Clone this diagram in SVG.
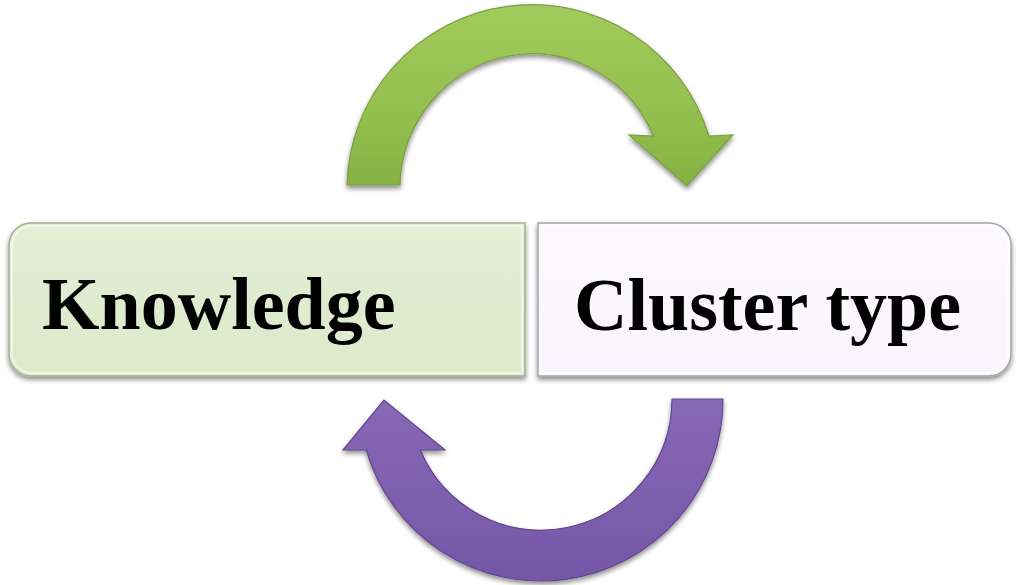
<svg xmlns="http://www.w3.org/2000/svg" width="1019" height="585" viewBox="0 0 1019 585">
  <style>
    .label { font-family: "Liberation Serif", "Times New Roman", serif; font-weight: bold; font-size: 74px; fill: #000000; }
    .box-green { fill: url(#gBoxGreen); stroke: #A3B38E; stroke-width: 1.5; }
    .box-violet { fill: url(#gBoxViolet); stroke: #A6A2AA; stroke-width: 1.5; }
    .bevel { fill: none; stroke: #FFFFFF; stroke-opacity: 0.55; stroke-width: 2; }
    .arrow-green { fill: url(#gArrowGreen); stroke: #7D9E45; stroke-width: 1.2; }
    .arrow-violet { fill: url(#gArrowViolet); stroke: #60468E; stroke-width: 1.2; }
  </style>
  <defs>
    <filter id="shadow" x="-10%" y="-10%" width="120%" height="130%">
      <feGaussianBlur in="SourceAlpha" stdDeviation="2.5"/>
      <feOffset dx="0" dy="3" result="b"/>
      <feComponentTransfer><feFuncA type="linear" slope="0.45"/></feComponentTransfer>
      <feMerge><feMergeNode/><feMergeNode in="SourceGraphic"/></feMerge>
    </filter>
    <linearGradient id="gBoxGreen" x1="0" y1="0" x2="0" y2="1">
      <stop offset="0" stop-color="#E3EED5"/>
      <stop offset="1" stop-color="#DCE9CB"/>
    </linearGradient>
    <linearGradient id="gBoxViolet" x1="0" y1="0" x2="0" y2="1">
      <stop offset="0" stop-color="#FDFAFE"/>
      <stop offset="1" stop-color="#F8F4FB"/>
    </linearGradient>
    <linearGradient id="gArrowGreen" x1="0" y1="0" x2="0" y2="1">
      <stop offset="0" stop-color="#A2CB5C"/>
      <stop offset="0.6" stop-color="#93BF4E"/>
      <stop offset="1" stop-color="#86B143"/>
    </linearGradient>
    <linearGradient id="gArrowViolet" x1="0" y1="0" x2="0" y2="1">
      <stop offset="0" stop-color="#8868B6"/>
      <stop offset="0.6" stop-color="#7D5DAD"/>
      <stop offset="1" stop-color="#7556A6"/>
    </linearGradient>
  </defs>

  <g id="node-knowledge" filter="url(#shadow)">
    <path class="box-green" d="M31,223 H525 V376 H31 A22 22 0 0 1 9,354 V245 A22 22 0 0 1 31,223 Z"/>
    <path class="bevel" d="M32,226 H522 V373 H32 A20 20 0 0 1 12,353 V246 A20 20 0 0 1 32,226 Z"/>
    <text class="label" x="42" y="329">Knowledge</text>
  </g>

  <g id="node-cluster-type" filter="url(#shadow)">
    <path class="box-violet" d="M538,223 H989 A22 22 0 0 1 1011,245 V354 A22 22 0 0 1 989,376 H538 Z"/>
    <path class="bevel" d="M541,226 H988 A20 20 0 0 1 1008,246 V353 A20 20 0 0 1 988,373 H541 Z"/>
    <text class="label" x="574" y="330">Cluster type</text>
  </g>

  <g id="connectors" filter="url(#shadow)">
    <path id="arrow-knowledge-to-cluster" class="arrow-green"
      d="M347,185 A185 185 0 0 1 709,136 L733,135 L687,186 L629,135 L653.4,136 A132 135 0 0 0 400,185 Z"/>
    <path id="arrow-cluster-to-knowledge" class="arrow-violet"
      d="M723,399 A182 182 0 0 1 366.3,450 L343,450 L384,400 L445,450 L420.3,450 A131 131 0 0 0 672,399 Z"/>
  </g>
</svg>
